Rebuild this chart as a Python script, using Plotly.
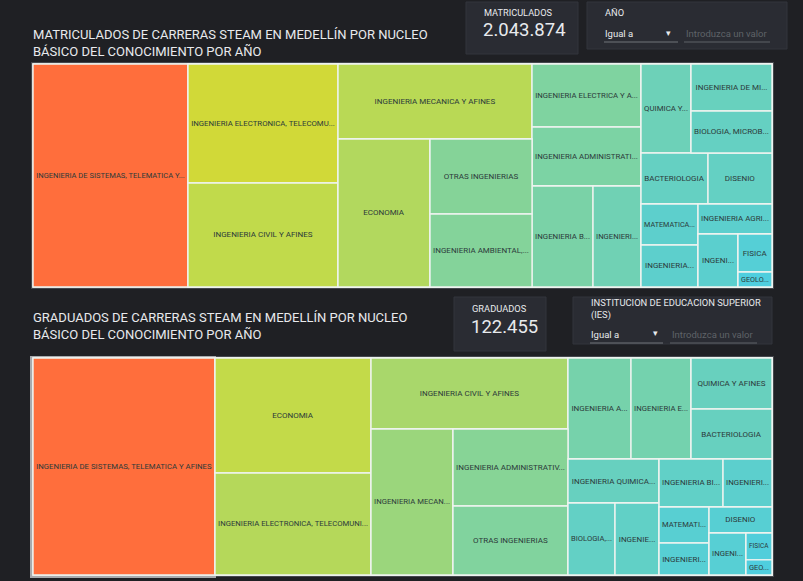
import plotly.graph_objects as go

W, H = 803, 581
BG = "#1f2024"
CARD = "#2a2c33"
SCALE = [[0, "#4fcede"], [0.5, "#d0db38"], [1, "#ff6e3c"]]

# Top treemap: leaves carry estimated enrolment, groups (g*) only nest the tiles
top_ids = ["sis", "g1", "elec", "civ", "g2", "mec", "g2a", "eco", "g2b", "otr", "amb",
           "g3", "ele", "adm", "g3a", "bio", "inq",
           "g4", "g4a", "qui", "g4b", "min", "biol", "g4c", "bac", "dis",
           "g4d", "g4e", "mat", "ing", "g4f", "agr", "g4g", "ingn", "g4h", "fis", "geo"]
top_parents = ["", "", "g1", "g1", "", "g2", "g2", "g2a", "g2a", "g2b", "g2b",
               "", "g3", "g3", "g3", "g3a", "g3a",
               "", "g4", "g4a", "g4a", "g4b", "g4b", "g4", "g4c", "g4c",
               "g4", "g4d", "g4e", "g4e", "g4d", "g4f", "g4f", "g4g", "g4g", "g4h", "g4h"]
top_labels = ["INGENIERIA DE SISTEMAS, TELEMATICA Y...", "", "INGENIERIA ELECTRONICA, TELECOMU...", "INGENIERIA CIVIL Y AFINES",
              "", "INGENIERIA MECANICA Y AFINES", "", "ECONOMIA", "", "OTRAS INGENIERIAS", "INGENIERIA AMBIENTAL,...",
              "", "INGENIERIA ELECTRICA Y A...", "INGENIERIA ADMINISTRATI...", "", "INGENIERIA B...", "INGENIERI...",
              "", "", "QUIMICA Y...", "", "INGENIERIA DE MI...", "BIOLOGIA, MICROB...", "", "BACTERIOLOGIA", "DISENIO",
              "", "", "MATEMATICA...", "INGENIERIA...", "", "INGENIERIA AGRI...", "", "INGENI...", "", "FISICA", "GEOLO..."]
top_values = [428700, 0, 221400, 193500, 0, 180450, 0, 168900, 0, 94900, 92350,
              0, 85170, 79760, 0, 76400, 60130,
              0, 0, 55190, 0, 47200, 42200, 0, 42380, 40480,
              0, 0, 28980, 29690, 0, 27530, 0, 26290, 0, 16020, 6325]

# Bottom treemap: leaves carry estimated graduates
bot_ids = ["sis", "g1", "eco", "elec", "g2", "civ", "g2a", "mec", "g2b", "adm", "otr",
           "g3", "g3a", "amb", "ele", "g3b", "qui", "bac",
           "g4", "g4a", "inq", "g4b", "biol", "min",
           "g5", "g5a", "bio", "ind", "g5b", "g5c", "mat", "ing", "g5d", "dis", "g5e", "ingn", "g5f", "fis", "geo"]
bot_parents = ["", "", "g1", "g1", "", "g2", "g2", "g2a", "g2a", "g2b", "g2b",
               "", "g3", "g3a", "g3a", "g3a", "g3b", "g3b",
               "g3", "g4", "g4a", "g4a", "g4b", "g4b",
               "g4", "g5", "g5a", "g5a", "g5", "g5b", "g5c", "g5c", "g5b", "g5d", "g5d", "g5e", "g5e", "g5f", "g5f"]
bot_labels = ["INGENIERIA DE SISTEMAS, TELEMATICA Y AFINES", "", "ECONOMIA", "INGENIERIA ELECTRONICA, TELECOMUNI...",
              "", "INGENIERIA CIVIL Y AFINES", "", "INGENIERIA MECAN...", "", "INGENIERIA ADMINISTRATIV...", "OTRAS INGENIERIAS",
              "", "", "INGENIERIA A...", "INGENIERIA E...", "", "QUIMICA Y AFINES", "BACTERIOLOGIA",
              "", "", "INGENIERIA QUIMICA...", "", "BIOLOGIA,...", "INGENIE...",
              "", "", "INGENIERIA BI...", "INGENIERI...", "", "", "MATEMATI...", "INGENIERI...", "", "DISENIO", "", "INGENI...", "", "FISICA", "GEO..."]
bot_values = [30160, 0, 13700, 12150, 0, 10680, 0, 9140, 0, 6760, 6060,
              0, 0, 4860, 4630, 0, 3155, 3090,
              0, 0, 3060, 0, 2585, 2420,
              0, 0, 2345, 1795, 0, 0, 1375, 1220, 0, 1250, 0, 1185, 0, 535, 300]

title_top = "MATRICULADOS DE CARRERAS STEAM EN MEDELLÍN POR NUCLEO<br>BÁSICO DEL CONOCIMIENTO POR AÑO"
title_bot = "GRADUADOS DE CARRERAS STEAM EN MEDELLÍN POR NUCLEO<br>BÁSICO DEL CONOCIMIENTO POR AÑO"
kpi_top, kpi_top_value = "MATRICULADOS", "2.043.874"
kpi_bot, kpi_bot_value = "GRADUADOS", "122.455"
filter_top, filter_bot = "AÑO", "INSTITUCION DE EDUCACION SUPERIOR<br>(IES)"
filter_op, filter_hint = "Igual a", "Introduzca un valor"


def treemap(ids, parents, labels, values, x0, x1, y0, y1):
    return go.Treemap(
        ids=ids, parents=parents, values=values, text=labels, labels=ids,
        branchvalues="remainder", sort=False, textinfo="text",
        textposition="middle center",
        textfont=dict(family="Roboto, sans-serif", size=8, color="#2c3a3a"),
        tiling=dict(packing="slice-dice", pad=0),
        pathbar=dict(visible=False),
        root=dict(color=BG),
        marker=dict(colors=values, colorscale=SCALE, cmin=min(v for v in values if v), cmax=max(values),
                    showscale=False, pad=dict(t=0, l=0, r=0, b=0), depthfade=False,
                    line=dict(color="#eef3ef", width=1.4)),
        hoverinfo="text",
        domain=dict(x=[x0 / W, x1 / W], y=[1 - y1 / H, 1 - y0 / H]),
    )


fig = go.Figure([
    treemap(top_ids, top_parents, top_labels, top_values, 33, 772, 64, 287),
    treemap(bot_ids, bot_parents, bot_labels, bot_values, 33, 772, 358, 575),
])


def rect(x0, y0, x1, y1, fill, line=None):
    fig.add_shape(type="rect", xref="paper", yref="paper", layer="below",
                  x0=x0 / W, x1=x1 / W, y0=1 - y0 / H, y1=1 - y1 / H,
                  fillcolor=fill, line=dict(color=line or fill, width=1 if line else 0))


def hline(x0, x1, y, color):
    fig.add_shape(type="line", xref="paper", yref="paper", layer="above",
                  x0=x0 / W, x1=x1 / W, y0=1 - y / H, y1=1 - y / H, line=dict(color=color, width=1))


def label(x, y, text, size, color="#e8eaed", anchor="left"):
    fig.add_annotation(xref="paper", yref="paper", x=x / W, y=1 - y / H, text=text,
                       showarrow=False, xanchor=anchor, yanchor="middle", align=anchor,
                       font=dict(family="Roboto, sans-serif", size=size, color=color), borderpad=0,
                       bgcolor="rgba(0,0,0,0)")


rect(31, 62, 774, 289, "#45484e")
rect(31, 356, 774, 577, "#45484e")
rect(30, 356, 216, 578, "#a8aaad")

rect(466, 2, 578, 54, CARD, "#33353c")
rect(587, 2, 787, 49, CARD, "#33353c")
rect(454, 297, 546, 351, CARD, "#33353c")
rect(573, 297, 772, 344, CARD, "#33353c")

label(32, 42.5, title_top, 13)
label(32, 326.5, title_bot, 13)

label(483, 12, kpi_top, 9.2)
label(524, 30, kpi_top_value, 18.5, anchor="center")
label(604, 13, filter_top, 9.3)
label(604, 33, filter_op, 9.5)
label(668, 33, "▾", 9, anchor="center")
hline(604, 678, 42, "#70757a")
label(685, 33, filter_hint, 9.5, color="#5f6368")
hline(684, 770, 42, "#5f6368")

label(471, 308.5, kpi_bot, 9.3)
label(504.5, 327, kpi_bot_value, 18.5, anchor="center")
label(590, 309, filter_bot, 9.4)
label(590, 334, filter_op, 9.5)
label(655, 333, "▾", 9, anchor="center")
hline(590, 663, 343, "#70757a")
label(671, 334, filter_hint, 9.5, color="#5f6368")
hline(670, 757, 343, "#5f6368")

fig.update_layout(width=W, height=H, margin=dict(l=0, r=0, t=0, b=0),
                  paper_bgcolor=BG, plot_bgcolor=BG, showlegend=False,
                  font=dict(family="Roboto, sans-serif"))
fig.write_html("out.html", config={"displayModeBar": False},
               post_script="document.body.style.margin='0';document.body.style.overflow='hidden';document.body.style.background='%s';" % BG)
